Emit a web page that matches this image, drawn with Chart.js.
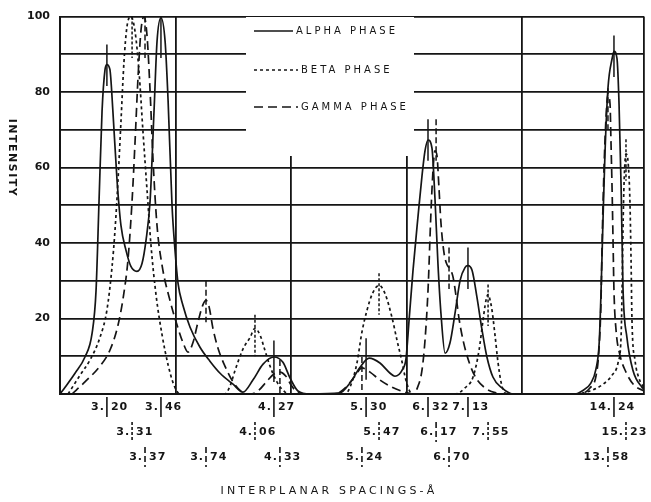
<!DOCTYPE html>
<html>
<head>
<meta charset="utf-8">
<script src="https://cdn.jsdelivr.net/npm/chart.js@4.4.1/dist/chart.umd.min.js"></script>
<style>
  html, body { margin: 0; padding: 0; background: #fff; }
  canvas { display: block; }
</style>
</head>
<body>
<canvas id="chart" width="651" height="502"></canvas>
<script>
// x = diffraction angle 2-theta (deg), axis runs from 30 down to ~4.7; y = relative intensity
const alphaTheta = [30.00, 29.78, 29.35, 28.92, 28.61, 28.44, 28.31, 28.18, 28.05, 27.97, 27.84, 27.71, 27.53, 27.36, 27.14, 26.93, 26.67, 26.45, 26.28, 26.10, 25.93, 25.80, 25.63, 25.45, 25.32, 25.15, 25.02, 24.89, 24.68, 24.37, 23.94, 23.51, 23.07, 22.51, 22.08, 21.65, 21.21, 20.74, 20.35, 20.04, 19.70, 19.18, 17.88, 17.45, 17.01, 16.62, 16.15, 15.71, 15.50, 15.19, 15.02, 14.89, 14.72, 14.50, 14.33, 14.20, 14.07, 13.90, 13.77, 13.64, 13.51, 13.33, 13.12, 12.90, 12.68, 12.47, 12.34, 12.16, 11.95, 11.73, 11.52, 11.26, 10.87, 10.39, 7.71, 7.40, 7.02, 6.80, 6.66, 6.58, 6.50, 6.41, 6.28, 6.10, 6.02, 5.89, 5.80, 5.71, 5.63, 5.46, 5.20, 4.81, 4.72];
const alphaIntensity = [0, 1.8, 5.5, 9.8, 16.1, 27.4, 51.2, 74.9, 86.0, 87.3, 86.0, 74.9, 56.5, 44.6, 38.0, 33.8, 32.5, 34.6, 40.6, 51.2, 74.9, 93.4, 99.7, 93.4, 77.6, 49.9, 38.0, 29.3, 23.5, 17.7, 12.4, 8.7, 5.5, 2.6, 0.5, 3.7, 7.9, 9.8, 8.4, 4.2, 0.8, 0, 0.3, 2.9, 7.1, 9.5, 8.2, 5.5, 4.7, 6.3, 9.5, 19.5, 32.7, 47.2, 57.8, 64.4, 67.3, 65.2, 52.0, 34.6, 21.4, 10.8, 13.5, 21.4, 30.1, 33.5, 34.0, 32.7, 25.6, 16.9, 9.8, 4.5, 1.6, 0, 0, 0.8, 2.9, 6.6, 13.5, 27.0, 45.0, 63.6, 81.0, 88.9, 90.8, 88.9, 76.8, 54.6, 28.2, 15.0, 6.3, 1.8, 1.3];

const betaTheta = [29.65, 29.13, 28.70, 28.27, 27.97, 27.75, 27.62, 27.49, 27.36, 27.23, 27.10, 26.93, 26.75, 26.58, 26.41, 26.23, 26.06, 25.84, 25.58, 25.32, 25.07, 24.81, 22.86, 22.64, 22.42, 22.08, 21.77, 21.56, 21.34, 21.13, 20.91, 20.61, 20.26, 19.96, 17.66, 17.36, 17.14, 16.93, 16.71, 16.49, 16.19, 15.93, 15.63, 15.41, 15.19, 15.06, 14.89, 14.76, 12.90, 12.47, 12.12, 11.86, 11.69, 11.56, 11.47, 11.38, 11.30, 11.17, 11.04, 10.91, 10.74, 10.52, 7.71, 7.06, 6.49, 6.10, 5.84, 5.71, 5.67, 5.63, 5.58, 5.50, 5.41, 5.33, 5.28, 5.24, 5.11, 4.94, 4.72];
const betaIntensity = [0, 5.0, 9.0, 15.0, 22.2, 33.5, 43.3, 56.5, 72.3, 88.1, 97.4, 100, 96.0, 85.5, 69.7, 53.8, 39.3, 26.1, 15.6, 7.7, 2.4, 0, 0, 2.1, 6.3, 11.9, 15.0, 17.4, 15.6, 11.6, 7.4, 3.2, 0.5, 0, 0, 3.2, 8.4, 16.4, 22.2, 26.4, 28.8, 26.6, 20.3, 14.2, 8.4, 4.5, 1.1, 0, 0, 1.6, 4.5, 11.6, 19.5, 24.8, 26.4, 24.8, 22.2, 15.6, 8.4, 3.2, 0.3, 0, 0, 0.8, 2.6, 5.0, 8.4, 15.6, 27.4, 43.3, 56.5, 63.6, 61.5, 51.2, 35.4, 19.5, 9.0, 4.2, 1.6];

const gammaTheta = [29.48, 28.92, 28.27, 27.84, 27.49, 27.23, 27.06, 26.88, 26.75, 26.62, 26.49, 26.36, 26.23, 26.10, 25.97, 25.80, 25.58, 25.24, 24.89, 24.63, 24.46, 24.24, 24.03, 23.81, 23.68, 23.55, 23.38, 23.16, 22.86, 22.51, 22.12, 21.77, 21.43, 21.04, 20.74, 20.48, 20.22, 20.00, 19.70, 19.39, 18.10, 17.66, 17.23, 16.93, 16.58, 16.15, 15.63, 15.07, 14.72, 14.50, 14.33, 14.20, 14.07, 13.94, 13.85, 13.77, 13.68, 13.60, 13.51, 13.38, 13.25, 13.12, 12.99, 12.86, 12.73, 12.55, 12.29, 11.99, 11.60, 11.13, 10.74, 7.49, 7.06, 6.80, 6.67, 6.58, 6.54, 6.49, 6.41, 6.32, 6.28, 6.19, 6.15, 6.10, 6.06, 6.02, 5.93, 5.76, 5.50, 5.16, 4.72];
const gammaIntensity = [0, 3.2, 7.4, 11.6, 18.2, 26.9, 35.4, 51.2, 67.0, 84.2, 96.6, 100, 94.7, 80.2, 61.7, 44.6, 34.0, 24.8, 17.4, 12.9, 11.1, 13.7, 19.0, 23.7, 24.8, 23.2, 17.4, 12.1, 7.4, 3.2, 0.5, 0, 0.8, 3.4, 5.3, 5.8, 4.7, 2.4, 0.3, 0, 0, 1.6, 4.7, 6.9, 5.8, 3.7, 1.8, 0.5, 0, 2.1, 6.3, 14.2, 27.4, 48.5, 59.6, 64.4, 63.1, 55.1, 45.4, 37.5, 34.3, 33.2, 31.1, 26.1, 20.1, 14.2, 8.4, 4.2, 1.6, 0.3, 0, 0, 1.6, 4.7, 11.6, 24.8, 38.0, 51.2, 67.0, 77.6, 79.4, 76.8, 67.0, 53.8, 40.6, 27.4, 16.9, 10.3, 5.8, 2.4, 0.8];

// reference lines: d-spacing label, 2-theta position, top of the stick
const alphaPeaks = ['3.20', '3.46', '4.27', '5.30', '6.32', '7.13', '14.24'];
const alphaPeakTheta = [27.97, 25.63, 20.74, 16.75, 14.07, 12.34, 6.02];
const alphaStick = [92.6, 100, 14.2, 14.8, 72.8, 38.8, 95];

const betaPeaks = ['3.31', '4.06', '5.47', '7.55', '15.23'];
const betaPeakTheta = [26.88, 21.56, 16.19, 11.47, 5.50];
const betaStick = [100, 21, 32, 29, 67.5];

const gammaPeaks = ['3.37', '3.74', '4.33', '5.24', '6.17', '6.70', '13.58'];
const gammaPeakTheta = [26.32, 23.68, 20.48, 16.93, 13.72, 13.16, 6.28];
const gammaStick = [100, 30, 9, 9.8, 72.8, 38.8, 81];
const gammaRows = [2, 2, 2, 2, 1, 2, 2];

const thetaGrid = [4.72, 10, 15, 20, 25, 30];
const phaseNames = ['ALPHA PHASE', 'BETA PHASE', 'GAMMA PHASE'];

const INK = '#151515';
const DASHES = [[], [3, 3], [9, 5]];
const STICK_DASHES = [[], [3, 2], [6, 3]];

const toPoints = (xs, ys) => xs.map((x, i) => ({ x, y: ys[i] }));

const phases = [
    { theta: alphaPeakTheta, labels: alphaPeaks, stick: alphaStick, rows: alphaPeaks.map(() => 0) },
    { theta: betaPeakTheta, labels: betaPeaks, stick: betaStick, rows: betaPeaks.map(() => 1) },
    { theta: gammaPeakTheta, labels: gammaPeaks, stick: gammaStick, rows: gammaRows }
];

function lineDataset(label, xs, ys, dash) {
    return {
        label,
        data: toPoints(xs, ys),
        borderColor: INK,
        borderWidth: 1.7,
        borderDash: dash,
        pointRadius: 0,
        fill: false,
        cubicInterpolationMode: 'monotone'
    };
}

function spaced(ctx, px) {
    if ('letterSpacing' in ctx) ctx.letterSpacing = px + 'px';
}

const paperPlugin = {
    id: 'paper',
    // blank out the grid behind the key, like the original sheet
    beforeDatasetsDraw(chart) {
        const ctx = chart.ctx;
        ctx.save();
        ctx.fillStyle = '#fff';
        ctx.fillRect(246, 17, 168, 139);
        ctx.restore();
    },
    afterDatasetsDraw(chart) {
        const ctx = chart.ctx;
        const xs = chart.scales.x;
        const ys = chart.scales.y;
        const bottom = chart.chartArea.bottom;
        const rowY = [bottom + 13, bottom + 38, bottom + 63];

        ctx.save();
        ctx.strokeStyle = INK;
        ctx.fillStyle = INK;

        phases.forEach((ph, p) => {
            ph.theta.forEach((t, i) => {
                const x = xs.getPixelForValue(t);
                const top = Math.min(ph.stick[i], 100);

                // stick above the peak
                ctx.lineWidth = 1.5;
                ctx.setLineDash(STICK_DASHES[p]);
                ctx.beginPath();
                ctx.moveTo(x, ys.getPixelForValue(top));
                ctx.lineTo(x, ys.getPixelForValue(Math.max(top - 11, 0)));
                ctx.stroke();

                // label under the axis, bar between the integer and decimal part
                const cy = rowY[ph.rows[i]];
                ctx.lineWidth = 1.6;
                ctx.beginPath();
                ctx.moveTo(x, cy - 10);
                ctx.lineTo(x, cy + 10);
                ctx.stroke();

                const [whole, frac] = ph.labels[i].split('.');
                ctx.setLineDash([]);
                ctx.font = 'bold 11px "DejaVu Sans"';
                spaced(ctx, 1);
                ctx.textBaseline = 'middle';
                ctx.textAlign = 'right';
                ctx.fillText(whole + '.', x - 2, cy);
                ctx.textAlign = 'left';
                ctx.fillText(frac, x + 4, cy);
            });
        });

        // key
        const keyY = [31, 70, 107];
        ctx.font = '10px "DejaVu Sans"';
        spaced(ctx, 3);
        ctx.textAlign = 'left';
        ctx.textBaseline = 'middle';
        phaseNames.forEach((name, i) => {
            ctx.lineWidth = 1.5;
            ctx.setLineDash(DASHES[i]);
            ctx.beginPath();
            ctx.moveTo(254, keyY[i]);
            ctx.lineTo(i === 0 ? 293 : 298, keyY[i]);
            ctx.stroke();
            ctx.setLineDash([]);
            ctx.fillText(name, i === 0 ? 296 : 301, keyY[i]);
        });

        // axis titles
        ctx.font = '11px "DejaVu Sans"';
        spaced(ctx, 3.2);
        ctx.textAlign = 'center';
        ctx.fillText('INTERPLANAR SPACINGS-\u00C5', 329, 491);

        ctx.font = 'bold 11px "DejaVu Sans"';
        spaced(ctx, 1.5);
        ctx.translate(12, 158);
        ctx.rotate(Math.PI / 2);
        ctx.fillText('INTENSITY', 0, 0);
        ctx.restore();
    }
};

new Chart(document.getElementById('chart'), {
    type: 'line',
    data: {
        datasets: [
            lineDataset(phaseNames[0], alphaTheta, alphaIntensity, DASHES[0]),
            lineDataset(phaseNames[1], betaTheta, betaIntensity, DASHES[1]),
            lineDataset(phaseNames[2], gammaTheta, gammaIntensity, DASHES[2])
        ]
    },
    options: {
        responsive: false,
        animation: false,
        devicePixelRatio: 1,
        layout: { padding: { top: 15, right: 7, left: 0, bottom: 0 } },
        plugins: {
            legend: { display: false },
            tooltip: { enabled: false }
        },
        scales: {
            x: {
                type: 'linear',
                reverse: true,
                min: 4.72,
                max: 30,
                afterBuildTicks: (s) => { s.ticks = thetaGrid.map((v) => ({ value: v })); },
                afterFit: (s) => { s.height = 108; },
                ticks: { display: false },
                grid: { color: INK, lineWidth: 1.8, drawTicks: false },
                border: { color: INK, width: 2 }
            },
            y: {
                min: 0,
                max: 100,
                afterFit: (s) => { s.width = 60; },
                grid: { color: INK, lineWidth: 1.8, drawTicks: false },
                border: { color: INK, width: 2 },
                ticks: {
                    stepSize: 10,
                    padding: 10,
                    color: INK,
                    autoSkip: false,
                    font: { family: 'DejaVu Sans', size: 11, weight: 'bold' },
                    callback: (v) => (v > 0 && v % 20 === 0 ? v : '')
                }
            }
        }
    },
    plugins: [paperPlugin]
});
</script>
</body>
</html>
